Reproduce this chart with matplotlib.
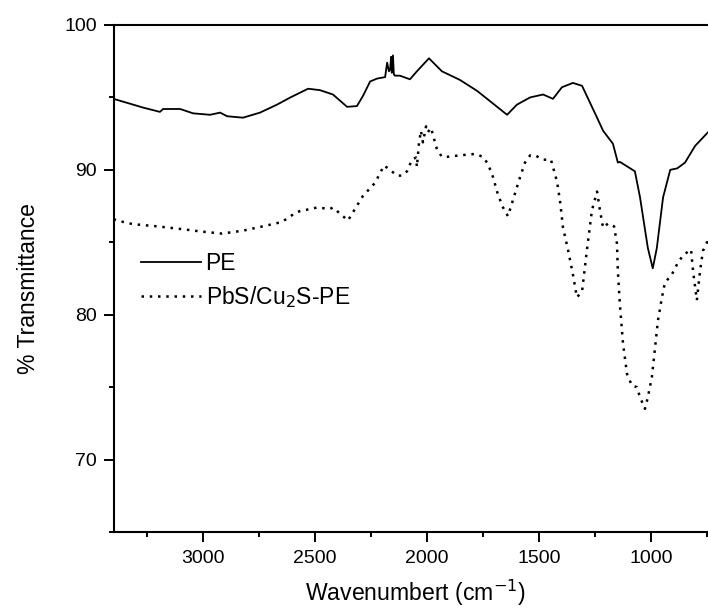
import matplotlib
matplotlib.use("Agg")
import matplotlib.pyplot as plt
from matplotlib.ticker import MultipleLocator

plt.rcParams['font.family'] = ['Liberation Sans', 'DejaVu Sans']

# PE spectrum (solid)
pe_wn = [3400, 3269, 3193, 3179, 3103, 3045, 2969, 2924, 2893, 2822, 2746, 2670,
         2610, 2531, 2478, 2420, 2357, 2313, 2286, 2254, 2223, 2187, 2178, 2170,
         2165, 2160, 2157, 2152, 2148, 2143, 2121, 2076, 2045, 1991, 1933, 1852,
         1776, 1719, 1642, 1598, 1539, 1481, 1437, 1397, 1348, 1307, 1240, 1213,
         1169, 1147, 1138, 1071, 1048, 1013, 991, 973, 945, 913, 882, 847, 802, 744, 700]
pe_t = [94.9, 94.3, 94.0, 94.2, 94.2, 93.9, 93.8, 93.95, 93.7, 93.6, 93.95, 94.5,
        95.0, 95.6, 95.5, 95.2, 94.35, 94.4, 95.1, 96.1, 96.3, 96.4, 97.4, 96.8,
        96.9, 97.8, 96.7, 97.9, 96.6, 96.5, 96.5, 96.25, 96.8, 97.7, 96.8, 96.2,
        95.45, 94.75, 93.8, 94.5, 95.0, 95.2, 94.9, 95.7, 96.0, 95.8, 93.6, 92.7,
        91.8, 90.5, 90.55, 89.9, 88.1, 84.6, 83.2, 84.6, 88.1, 90.0, 90.1, 90.5, 91.65, 92.6, 93.0]

# PbS/Cu2S-PE spectrum (dotted)
pbs_wn = [3400, 3385, 3313, 3206, 3090, 3014, 2916, 2822, 2733, 2648, 2581, 2491,
          2433, 2420, 2353, 2286, 2232, 2192, 2165, 2134, 2112, 2089, 2067, 2049,
          2045, 2036, 2027, 2018, 2004, 1996, 1982, 1955, 1933, 1910, 1852, 1785,
          1750, 1727, 1705, 1683, 1660, 1638, 1616, 1584, 1562, 1539, 1517, 1481,
          1446, 1419, 1406, 1392, 1370, 1348, 1330, 1307, 1285, 1263, 1240, 1227,
          1213, 1191, 1164, 1151, 1147, 1138, 1124, 1106, 1084, 1062, 1048, 1026,
          1013, 995, 981, 968, 950, 937, 905, 882, 856, 820, 811, 794, 780, 767, 749, 700]
pbs_t = [86.6, 86.5, 86.25, 86.1, 85.9, 85.75, 85.6, 85.8, 86.1, 86.4, 87.1, 87.4,
         87.3, 87.4, 86.5, 88.2, 89.1, 90.3, 90.0, 89.6, 89.6, 89.9, 90.7, 90.85,
         90.2, 91.8, 92.7, 91.9, 93.0, 92.6, 92.9, 91.4, 90.9, 90.9, 91.0, 91.1,
         90.9, 90.4, 89.5, 88.3, 87.4, 86.8, 87.9, 89.5, 90.5, 91.0, 91.0, 90.7,
         90.7, 89.2, 87.9, 86.0, 84.5, 82.8, 81.2, 81.6, 84.5, 87.2, 88.5, 87.2,
         86.0, 86.3, 86.1, 84.9, 83.0, 80.7, 78.0, 75.9, 75.1, 75.0, 74.3, 73.5,
         74.3, 75.7, 77.7, 79.6, 81.2, 82.2, 82.8, 83.5, 84.1, 84.5, 83.0, 81.0,
         83.0, 84.4, 85.0, 85.2]

fig = plt.figure(figsize=(7.08, 6.12), dpi=100)
ax = fig.add_axes([0.1605, 0.1307, 0.8535, 0.8285])

ax.plot(pe_wn, pe_t, color='black', lw=1.3, linestyle='-', label='PE')
ax.plot(pbs_wn, pbs_t, color='black', lw=1.8, linestyle=(0, (1, 2.3)),
        label='PbS/Cu$_2$S-PE')

ax.set_xlim(3400, 700)
ax.set_ylim(65, 100)
ax.xaxis.set_major_locator(MultipleLocator(500))
ax.xaxis.set_minor_locator(MultipleLocator(250))
ax.yaxis.set_major_locator(MultipleLocator(10))
ax.yaxis.set_minor_locator(MultipleLocator(5))
ax.tick_params(which='major', direction='out', length=7.2, width=1.4, labelsize=14,
               top=False, right=False)
ax.tick_params(axis='x', which='major', pad=5.5)
ax.tick_params(axis='y', which='major', pad=5)
ax.tick_params(which='minor', direction='out', length=3.8, width=1.4, top=False, right=False)
for s in ax.spines.values():
    s.set_linewidth(1.5)

ax.set_xlabel('Wavenumbert (cm$^{-1}$)', fontsize=16.6)
ax.xaxis.set_label_coords(0.5, -0.09)
ax.set_ylabel('% Transmittance', fontsize=16.6)
ax.yaxis.set_label_coords(-0.122, 0.48)

leg = ax.legend(loc='upper left', bbox_to_anchor=(0.03, 0.571), frameon=False,
                fontsize=16.5, handlelength=2.6, handletextpad=0.22, labelspacing=0.42,
                borderaxespad=0.0)

fig.savefig('out.png', dpi=100)
